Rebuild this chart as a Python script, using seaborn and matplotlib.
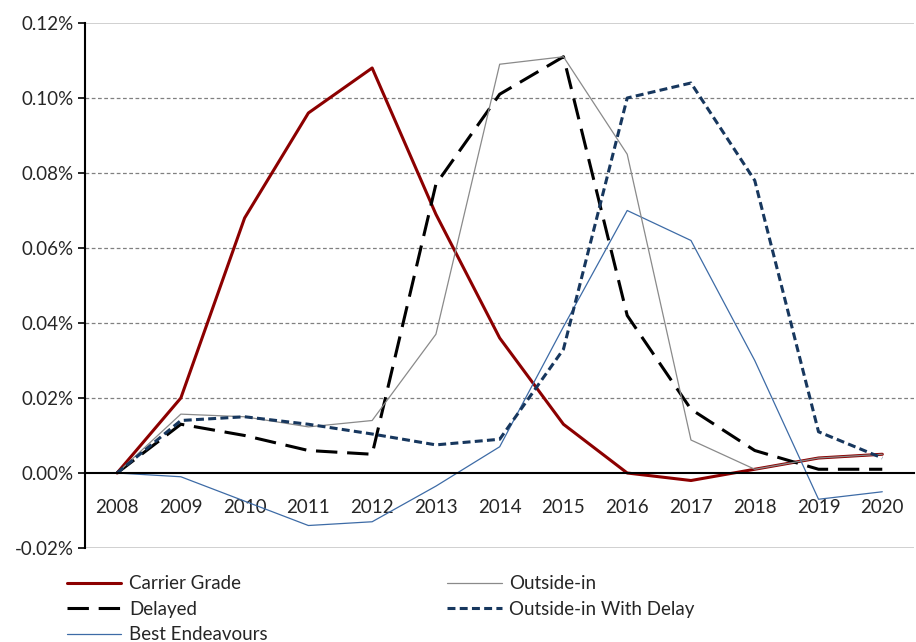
import matplotlib
matplotlib.use("Agg")
import matplotlib.pyplot as plt
import seaborn as sns
import pandas as pd
import numpy as np
from matplotlib.ticker import FixedLocator, FuncFormatter

years = ["2008", "2009", "2010", "2011", "2012", "2013", "2014",
         "2015", "2016", "2017", "2018", "2019", "2020"]

# values in percent
carrier_grade = [0.0, 0.020, 0.068, 0.096, 0.108, 0.069, 0.036, 0.013, 0.0, -0.002, 0.001, 0.004, 0.005]
delayed = [0.0, 0.013, 0.010, 0.006, 0.005, 0.077, 0.101, 0.111, 0.042, 0.017, 0.006, 0.001, 0.001]
best_endeavours = [0.0, -0.001, -0.0075, -0.014, -0.013, -0.0035, 0.007, 0.039, 0.070, 0.062, 0.030, -0.007, -0.005]
outside_in = [0.0, 0.0157, 0.015, 0.0123, 0.014, 0.037, 0.109, 0.111, 0.085, 0.0088, 0.001, 0.004, 0.005]
outside_in_delay = [0.0, 0.014, 0.015, 0.013, 0.0104, 0.0075, 0.009, 0.033, 0.100, 0.104, 0.078, 0.011, 0.004]

series_names = ["Carrier Grade", "Delayed", "Best Endeavours", "Outside-in", "Outside-in With Delay"]
series_values = [carrier_grade, delayed, best_endeavours, outside_in, outside_in_delay]

estilos = {
    "Carrier Grade": dict(color="#8C0000", lw=2.2, ls="-"),
    "Delayed": dict(color="#000000", lw=2.2, ls=(0, (7, 3.2))),
    "Best Endeavours": dict(color="#3D6BA6", lw=0.9, ls="-"),
    "Outside-in": dict(color="#8A8A8A", lw=0.9, ls="-"),
    "Outside-in With Delay": dict(color="#17375E", lw=2.2, ls=(0, (2.6, 1.4))),
}

sns.set_style("white")
plt.rcParams["font.family"] = ["Lato", "DejaVu Sans"]

fig = plt.figure(figsize=(9.16, 6.42), dpi=100)
ax = fig.add_axes([0.093, 0.1464, 0.905, 0.8178])

x = np.arange(len(years))
for nombre, valores in zip(series_names, series_values):
    e = estilos[nombre]
    sns.lineplot(x=x, y=valores, ax=ax, color=e["color"], linewidth=e["lw"],
                 linestyle=e["ls"], label=nombre)

ax.set_xlim(-0.5, len(years) - 0.5)
ax.set_ylim(-0.02, 0.12)

yt = [-0.02, 0.0, 0.02, 0.04, 0.06, 0.08, 0.10, 0.12]
ax.yaxis.set_major_locator(FixedLocator(yt))
ax.yaxis.set_major_formatter(FuncFormatter(lambda v, p: f"{v:.2f}%"))
for v in yt:
    if v in (-0.02, 0.12):
        ax.axhline(v, color="#C8C8C8", lw=1.2, zorder=0)
    elif v != 0.0:
        ax.axhline(v, color="#808080", lw=0.9, ls=(0, (3, 2)), zorder=0)

ax.spines["top"].set_visible(False)
ax.spines["right"].set_visible(False)
ax.spines["left"].set_color("black")
ax.spines["left"].set_linewidth(1.5)
ax.spines["bottom"].set_position(("data", 0))
ax.spines["bottom"].set_color("black")
ax.spines["bottom"].set_linewidth(1.5)

ax.set_xticks(x)
ax.set_xticklabels(years)
ax.set_xticks(np.arange(0.5, len(years) - 0.5, 1), minor=True)
ax.tick_params(axis="x", which="major", length=0, pad=19, labelsize=13.5)
ax.tick_params(axis="x", which="minor", length=6, width=1.2, direction="out", color="black")
ax.tick_params(axis="y", which="major", length=5, width=1.2, direction="out", color="black",
               labelsize=13.5, left=True)

handles, labels = ax.get_legend_handles_labels()
ax.legend(handles, labels, ncol=2, loc="upper left", bbox_to_anchor=(-0.031, -0.038),
          frameon=False, fontsize=13.5, handlelength=2.9, handletextpad=0.4,
          columnspacing=9.6, labelspacing=0.45, borderaxespad=0)

ax.set_xlabel("")
ax.set_ylabel("")

fig.savefig("out.png", dpi=100)
